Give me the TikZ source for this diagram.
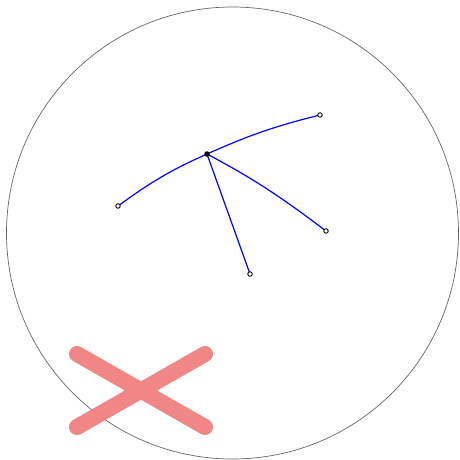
\documentclass[tikz,border=0pt]{standalone}
\definecolor{xcoral}{RGB}{240,128,128}
\begin{document}
\begin{tikzpicture}[x=1pt,y=-1pt,
  geo/.style={blue,line width=1.2pt},
  hub/.style={circle,fill=black,inner sep=0pt,minimum size=5.5pt},
  tip/.style={circle,draw=black,fill=white,line width=0.9pt,inner sep=0pt,minimum size=4.5pt},
  cross/.style={xcoral,opacity=0.95,line width=16pt,line cap=round}]
\useasboundingbox (0,0) rectangle (459,460);
\node[circle,draw=black!60,line width=0.7pt,minimum size=452pt,inner sep=0pt] (disk) at (232.5,233) {};
\coordinate (a) at (118,206);
\coordinate (c) at (207,154);
\coordinate (b) at (320,115);
\coordinate (d) at (326,231);
\coordinate (e) at (250,274);
\draw[geo] (a) to[out=36,in=204] (c) to[out=24,in=194] (b);
\draw[geo] (c) to[out=-28,in=143] (d);
\draw[geo] (c) -- (e);
\node[hub] (nc) at (c) {};
\node[tip] (na) at (a) {};
\node[tip] (nb) at (b) {};
\node[tip] (nd) at (d) {};
\node[tip] (ne) at (e) {};
\coordinate (x1) at (77,354);
\coordinate (x2) at (205,427);
\coordinate (x3) at (77,427);
\coordinate (x4) at (205,354);
\draw[cross] (x1) -- (x2) (x3) -- (x4);
\end{tikzpicture}
\end{document}
